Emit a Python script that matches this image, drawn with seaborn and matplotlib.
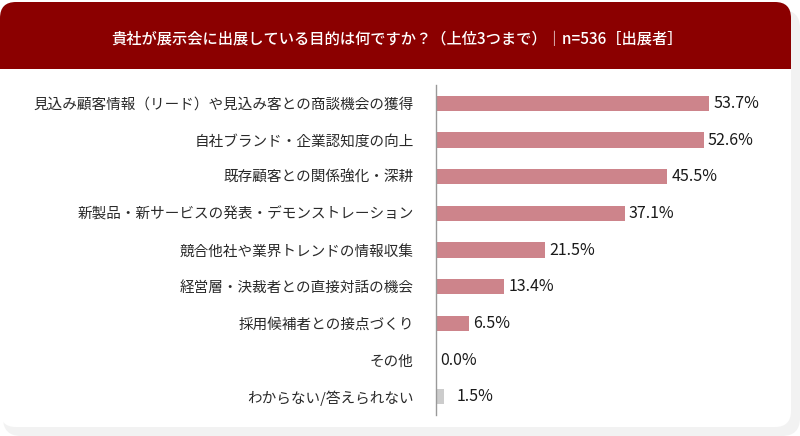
#!/usr/bin/env python3
import matplotlib
matplotlib.use('Agg')
import matplotlib.pyplot as plt
from matplotlib.patches import FancyBboxPatch, Rectangle
import pandas as pd
import seaborn as sns

sns.set_theme(style='white')
plt.rcParams['font.family'] = ['Noto Sans CJK JP', 'DejaVu Sans']

TITLE = '貴社が展示会に出展している目的は何ですか？（上位3つまで）｜n=536［出展者］'
categories = [
    '見込み顧客情報（リード）や見込み客との商談機会の獲得',
    '自社ブランド・企業認知度の向上',
    '既存顧客との関係強化・深耕',
    '新製品・新サービスの発表・デモンストレーション',
    '競合他社や業界トレンドの情報収集',
    '経営層・決裁者との直接対話の機会',
    '採用候補者との接点づくり',
    'その他',
    'わからない/答えられない',
]
values = [53.7, 52.6, 45.5, 37.1, 21.5, 13.4, 6.5, 0.0, 1.5]
bar_colors = ['#cd848b'] * 8 + ['#cccccc']

W, H = 800, 436
fig = plt.figure(figsize=(W / 100, H / 100), dpi=100)
fig.patch.set_facecolor('white')

# background card drawn in pixel coordinates
bg = fig.add_axes([0, 0, 1, 1])
bg.set_xlim(0, W)
bg.set_ylim(H, 0)
bg.axis('off')
bg.add_patch(FancyBboxPatch((3, 10), 797, 426, boxstyle='round,pad=0,rounding_size=18',
                            fc='#f2f2f2', ec='none'))
bg.add_patch(FancyBboxPatch((0, 2), 791, 425, boxstyle='round,pad=0,rounding_size=16',
                            fc='white', ec='none'))
bg.add_patch(FancyBboxPatch((0, 2), 791, 67, boxstyle='round,pad=0,rounding_size=16',
                            fc='#8b0000', ec='none'))
bg.add_patch(Rectangle((0, 40), 791, 29, fc='#8b0000', ec='none'))
bg.text(397, 40, TITLE, color='white', fontsize=11, fontweight='medium',
        ha='center', va='center')

df = pd.DataFrame({'category': categories, 'value': values})

ax = fig.add_axes([436 / W, 21 / H, 356 / W, 330 / H])
ax.set_facecolor('none')
sns.barplot(data=df, x='value', y='category', hue='category', palette=bar_colors,
            saturation=1, legend=False, width=0.42, linewidth=0, ax=ax)
ax.set_xlim(0, 70)
ax.set_xlabel('')
ax.set_ylabel('')
ax.set_xticks([])
ax.tick_params(axis='y', length=0, pad=16, labelsize=10.5, labelcolor='#2a2a2a')
for s in ['top', 'right', 'bottom']:
    ax.spines[s].set_visible(False)
ax.spines['left'].set_color('#999999')
ax.spines['left'].set_linewidth(1)

pads = [3] * 8 + [9]
for cont, pad in zip(ax.containers, pads):
    ax.bar_label(cont, labels=[f'{v:.1f}%' for v in cont.datavalues], padding=pad,
                 fontsize=11.5, color='#1a1a1a')

fig.savefig('out.png', dpi=100)
